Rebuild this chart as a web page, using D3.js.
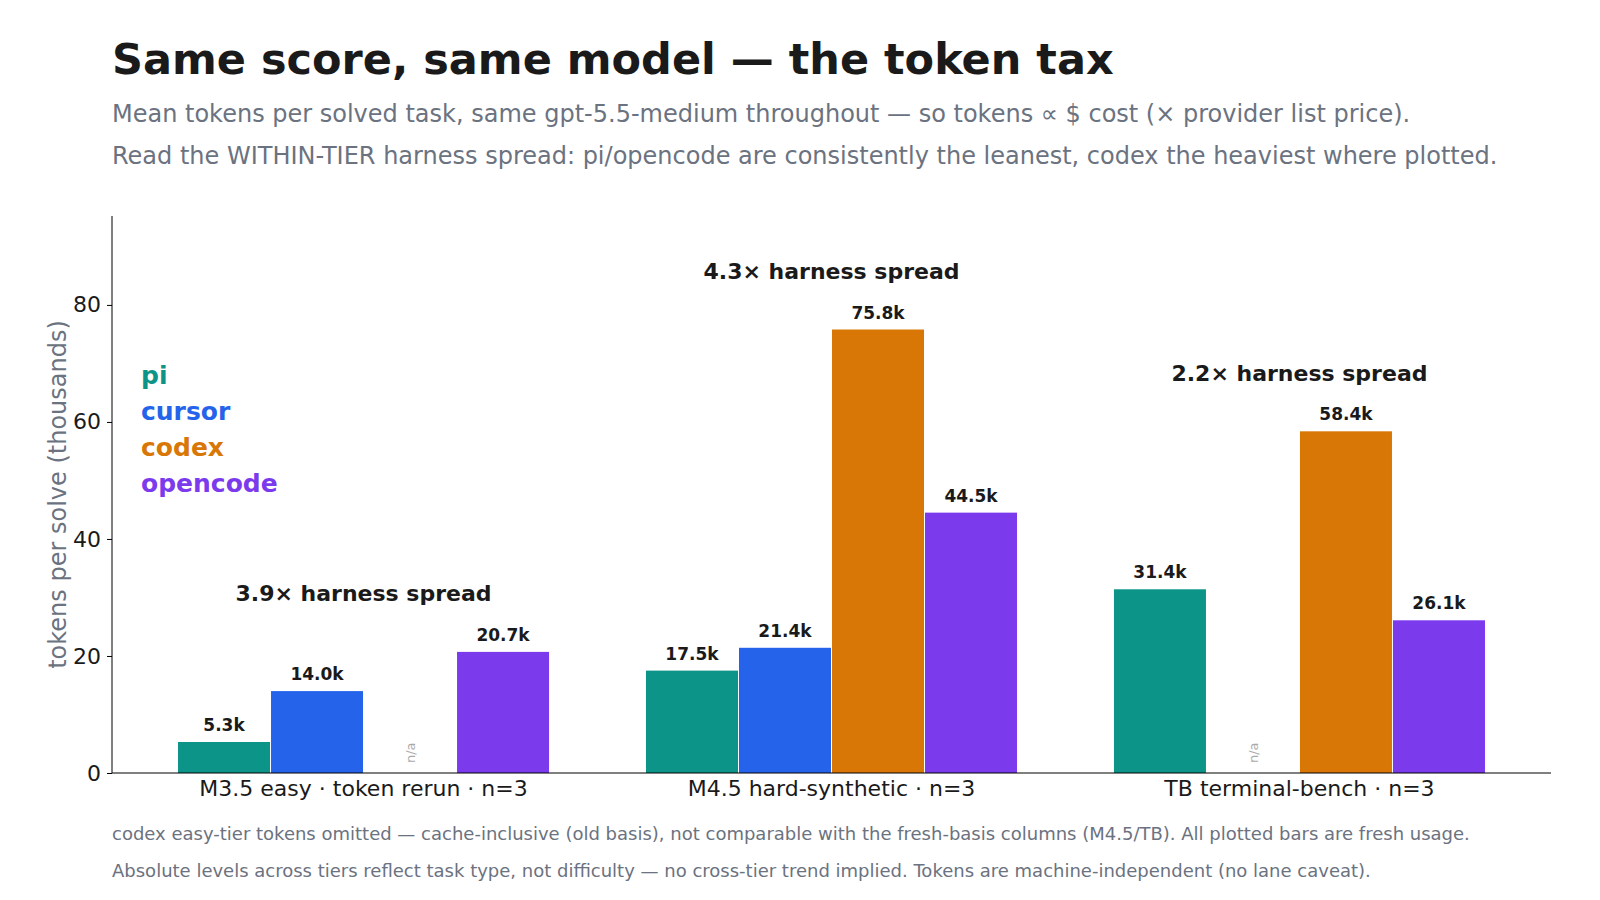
<!DOCTYPE html>
<html><head><meta charset="utf-8">
<script src="https://cdn.jsdelivr.net/npm/d3@7"></script>
<style>
body{margin:0;background:#fff;font-family:"DejaVu Sans",sans-serif;}
</style></head>
<body><div id="chart"></div>
<script>
// data
var tiers = ["M3.5 easy · token rerun · n=3", "M4.5 hard-synthetic · n=3", "TB terminal-bench · n=3"];
var harnesses = ["pi", "cursor", "codex", "opencode"];
var colors = ["#0d9488", "#2563eb", "#d97706", "#7c3aed"];
// thousands of tokens, null = not plotted
var piVals = [5.3, 17.5, 31.4];
var cursorVals = [14.0, 21.4, null];
var codexVals = [null, 75.8, 58.4];
var opencodeVals = [20.7, 44.5, 26.1];
var yTicks = [0, 20, 40, 60, 80];

var series = [piVals, cursorVals, codexVals, opencodeVals];
var W = 1600, H = 900;
var margin = {top: 216, bottom: 127, left: 112, right: 49};

var svg = d3.select("#chart").append("svg").attr("width", W).attr("height", H);

svg.append("text").attr("x", 112).attr("y", 74).attr("font-size", 43).attr("font-weight", "bold")
  .attr("fill", "#1a1a1a").text("Same score, same model — the token tax");
svg.append("text").attr("x", 112).attr("y", 122).attr("font-size", 24).attr("fill", "#6b7280")
  .text("Mean tokens per solved task, same gpt-5.5-medium throughout — so tokens ∝ $ cost (× provider list price).");
svg.append("text").attr("x", 112).attr("y", 164).attr("font-size", 24).attr("fill", "#6b7280")
  .text("Read the WITHIN-TIER harness spread: pi/opencode are consistently the leanest, codex the heaviest where plotted.");

var y = d3.scaleLinear().domain([0, 95.2]).range([H - margin.bottom, margin.top]);
var x0 = d3.scaleBand().domain(tiers).range([margin.left, W - margin.right]).paddingInner(0.205).paddingOuter(0.14);
var x1 = d3.scaleBand().domain(harnesses).range([0, x0.bandwidth()]);

var g = svg.append("g");
tiers.forEach(function (t, i) {
  var vals = [];
  harnesses.forEach(function (h, j) {
    var v = series[j][i];
    var bx = x0(t) + x1(h);
    if (v === null) {
      g.append("text").attr("transform", "translate(" + (bx + x1.bandwidth() / 2 + 5) + "," + (y(0) - 10) + ") rotate(-90)")
        .attr("font-size", 13).attr("fill", "#aaa").text("n/a");
      return;
    }
    vals.push(v);
    g.append("rect").attr("x", bx + 0.5).attr("width", x1.bandwidth() - 1)
      .attr("y", y(v)).attr("height", y(0) - y(v)).attr("fill", colors[j]);
    g.append("text").attr("x", bx + x1.bandwidth() / 2).attr("y", y(v) - 11)
      .attr("text-anchor", "middle").attr("font-size", 17).attr("font-weight", "bold").attr("fill", "#1a1a1a")
      .text(v.toFixed(1) + "k");
  });
  var mx = d3.max(vals), mn = d3.min(vals);
  g.append("text").attr("x", x0(t) + x0.bandwidth() / 2).attr("y", y(mx + 10) + 8)
    .attr("text-anchor", "middle").attr("font-size", 22).attr("font-weight", "bold").attr("fill", "#1a1a1a")
    .text((mx / mn).toFixed(1) + "× harness spread");
});

// axes
var yAxis = svg.append("g").attr("transform", "translate(" + margin.left + ",0)")
  .call(d3.axisLeft(y).tickValues(yTicks).tickSize(5).tickPadding(6));
yAxis.selectAll("text").attr("font-size", 22).attr("fill", "#1a1a1a").attr("font-family", "DejaVu Sans");
yAxis.select(".domain").attr("d", "M0," + y(0) + "V" + margin.top);
var xAxis = svg.append("g").attr("transform", "translate(0," + y(0) + ")")
  .call(d3.axisBottom(x0).tickSize(0).tickPadding(7));
xAxis.selectAll("text").attr("font-size", 22).attr("fill", "#1a1a1a").attr("font-family", "DejaVu Sans");
xAxis.select(".domain").attr("d", "M" + margin.left + ",0H" + (W - margin.right));

svg.append("text").attr("transform", "translate(66," + ((margin.top + y(0)) / 2) + ") rotate(-90)")
  .attr("text-anchor", "middle").attr("font-size", 24).attr("fill", "#6b7280").text("tokens per solve (thousands)");

// legend
harnesses.forEach(function (h, j) {
  svg.append("text").attr("x", 141).attr("y", 384 + j * 36).attr("font-size", 25).attr("font-weight", "bold")
    .attr("fill", colors[j]).text(h);
});

svg.append("text").attr("x", 112).attr("y", 840).attr("font-size", 18).attr("fill", "#6b7280")
  .text("codex easy-tier tokens omitted — cache-inclusive (old basis), not comparable with the fresh-basis columns (M4.5/TB). All plotted bars are fresh usage.");
svg.append("text").attr("x", 112).attr("y", 877).attr("font-size", 18).attr("fill", "#6b7280")
  .text("Absolute levels across tiers reflect task type, not difficulty — no cross-tier trend implied. Tokens are machine-independent (no lane caveat).");
</script></body></html>
